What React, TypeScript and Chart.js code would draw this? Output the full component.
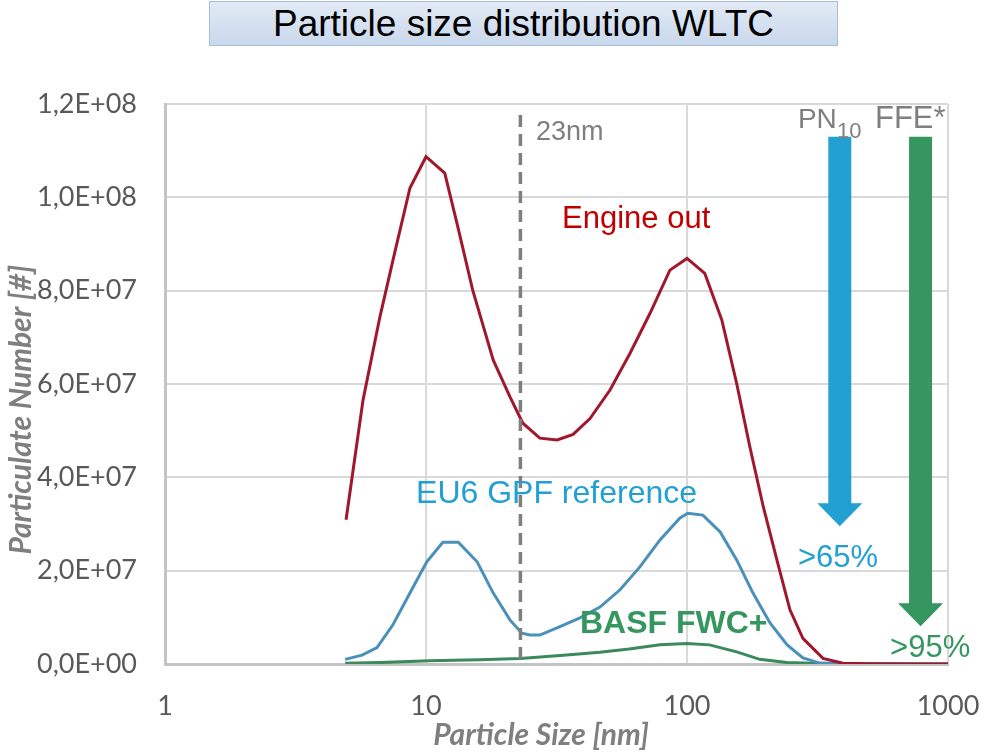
import { useEffect, useRef } from "react";
import { Chart, registerables } from "chart.js";

Chart.register(...registerables);

// Particle size bins [nm] and counts per curve
const engineSizes = [4.94, 5.74, 6.66, 7.6, 8.68, 10, 11.8, 13.2, 15.1, 18.1, 21, 23.5, 27.3, 31.8, 36.6, 42.5, 50.7, 60.5, 72.1, 86, 100, 117, 136, 155, 174, 196, 221, 248, 278, 332, 396, 500, 700, 1000];
const engineCounts = [3.09e7, 5.66e7, 7.44e7, 8.83e7, 1.02e8, 1.087e8, 1.052e8, 9.4e7, 8.01e7, 6.51e7, 5.72e7, 5.16e7, 4.84e7, 4.8e7, 4.92e7, 5.26e7, 5.87e7, 6.66e7, 7.51e7, 8.44e7, 8.69e7, 8.37e7, 7.37e7, 6.01e7, 4.66e7, 3.37e7, 2.23e7, 1.16e7, 5.5e6, 1.2e6, 1.5e5, 5e4, 2e4, 1e4];

const gpfSizes = [4.9, 5.69, 6.49, 7.47, 8.68, 10.07, 11.6, 13.3, 15.7, 18.1, 21, 23.3, 25, 27.3, 32.6, 38.9, 46.4, 55.4, 66, 78.8, 94, 100.7, 115, 134, 155, 179, 208, 242, 278, 323, 400, 1000];
const gpfCounts = [1.0e6, 1.9e6, 3.5e6, 8.4e6, 1.52e7, 2.19e7, 2.61e7, 2.61e7, 2.19e7, 1.52e7, 9.4e6, 6.6e6, 6.2e6, 6.2e6, 8.0e6, 9.9e6, 1.22e7, 1.59e7, 2.08e7, 2.66e7, 3.13e7, 3.23e7, 3.19e7, 2.83e7, 2.23e7, 1.52e7, 8.8e6, 4.1e6, 1.3e6, 2e5, 5e4, 0];

const fwcSizes = [4.9, 6.66, 10.3, 16, 23, 33.6, 46.4, 60, 78.8, 100, 122, 155, 190, 242, 323, 1000];
const fwcCounts = [1.5e5, 3e5, 7e5, 9e5, 1.2e6, 1.9e6, 2.5e6, 3.2e6, 4.1e6, 4.4e6, 4.1e6, 2.6e6, 1.0e6, 3e5, 1e5, 0];

const xTicks = [1, 10, 100, 1000];
const Y_MAX = 1.2e8;
const Y_STEP = 2e7;

const CUTOFF_NM = 23;

const X_TITLE = "Particle Size [nm]";
const Y_TITLE = "Particulate Number [#]";

const RED = "#a0182d";
const BLUE_LINE = "#4a90b9";
const GREEN_LINE = "#3a8a5c";
const BLUE_TXT = "#22a0d4";
const GREEN_TXT = "#35965f";
const GRAY_TXT = "#7f7f7f";

const toXY = (xs: number[], ys: number[]) => xs.map((x, i) => ({ x, y: ys[i] }));

const sci = (v: number) => {
  if (v === 0) return "0,0E+00";
  const e = Math.floor(Math.log10(v) + 1e-9);
  const m = v / Math.pow(10, e);
  return m.toFixed(1).replace(".", ",") + "E+" + String(e).padStart(2, "0");
};

type Label = { text: string; x: number; y: number; color: string; font: string };

const SANS = "'Liberation Sans', Arial, sans-serif";
const AXIS_FONT = "Lato, 'Open Sans', sans-serif";

// Text annotations placed in data space (left edge / baseline)
const labels: Label[] = [
  { text: "23nm", x: 26.4, y: 1.123e8, color: GRAY_TXT, font: `27px ${SANS}` },
  { text: "Engine out", x: 33.2, y: 9.34e7, color: "#c00000", font: `31px ${SANS}` },
  { text: "EU6 GPF reference", x: 9.16, y: 3.45e7, color: BLUE_TXT, font: `32px ${SANS}` },
  { text: "BASF FWC+", x: 38.9, y: 6.6e6, color: GREEN_TXT, font: `bold 32px ${SANS}` },
  { text: ">65%", x: 266, y: 2.08e7, color: BLUE_TXT, font: `31px ${SANS}` },
  { text: ">95%", x: 600, y: 1.5e6, color: GREEN_TXT, font: `31px ${SANS}` },
  { text: "PN", x: 266, y: 1.149e8, color: GRAY_TXT, font: `28px ${SANS}` },
  { text: "10", x: 376, y: 1.127e8, color: GRAY_TXT, font: `22px ${SANS}` },
  { text: "FFE*", x: 525, y: 1.149e8, color: GRAY_TXT, font: `31px ${SANS}` },
];

// Reduction arrows: x position [nm], top and tip in counts
const arrows = [
  { x: 385, top: 1.13e8, tip: 2.95e7, color: "#22a0d2" },
  { x: 785, top: 1.13e8, tip: 8.1e6, color: "#35965f" },
];

const annotate = {
  id: "annotate",
  afterDatasetsDraw(chart: any) {
    const { ctx, chartArea } = chart;
    const xs = chart.scales.x;
    const ys = chart.scales.y;
    ctx.save();

    // 23 nm counting cut-off
    const cx = xs.getPixelForValue(CUTOFF_NM);
    ctx.strokeStyle = "#7f7f7f";
    ctx.lineWidth = 3.5;
    ctx.setLineDash([12, 7]);
    ctx.beginPath();
    ctx.moveTo(cx, chartArea.top + 11);
    ctx.lineTo(cx, chartArea.bottom);
    ctx.stroke();
    ctx.setLineDash([]);

    // arrows
    for (const a of arrows) {
      const ax = xs.getPixelForValue(a.x);
      const top = ys.getPixelForValue(a.top);
      const tip = ys.getPixelForValue(a.tip);
      const shaft = 11.5;
      const head = 22.5;
      const headLen = 23;
      ctx.fillStyle = a.color;
      ctx.beginPath();
      ctx.moveTo(ax - shaft, top);
      ctx.lineTo(ax + shaft, top);
      ctx.lineTo(ax + shaft, tip - headLen);
      ctx.lineTo(ax + head, tip - headLen);
      ctx.lineTo(ax, tip);
      ctx.lineTo(ax - head, tip - headLen);
      ctx.lineTo(ax - shaft, tip - headLen);
      ctx.closePath();
      ctx.fill();
    }

    // text labels
    ctx.textAlign = "left";
    ctx.textBaseline = "alphabetic";
    for (const l of labels) {
      ctx.font = l.font;
      ctx.fillStyle = l.color;
      ctx.fillText(l.text, xs.getPixelForValue(l.x), ys.getPixelForValue(l.y));
    }

    // axis titles
    ctx.font = `italic bold 30px ${AXIS_FONT}`;
    ctx.fillStyle = GRAY_TXT;
    ctx.textAlign = "center";
    ctx.textBaseline = "middle";
    ctx.fillText(X_TITLE, xs.getPixelForValue(27.6), chart.height - 18);
    ctx.translate(21, ys.getPixelForValue(5.45e7));
    ctx.rotate(-Math.PI / 2);
    ctx.fillText(Y_TITLE, 0, 0);
    ctx.restore();
  },
};

export default function App() {
  const canvasRef = useRef<HTMLCanvasElement | null>(null);

  useEffect(() => {
    document.body.style.margin = "0";
    const canvas = canvasRef.current;
    if (!canvas) return;
    const tickFont = { family: AXIS_FONT, size: 27 };

    const chart = new Chart(canvas, {
      type: "line",
      data: {
        datasets: [
          {
            label: "Engine out",
            data: toXY(engineSizes, engineCounts),
            borderColor: RED,
            borderWidth: 3,
            pointRadius: 0,
            tension: 0,
          },
          {
            label: "EU6 GPF reference",
            data: toXY(gpfSizes, gpfCounts),
            borderColor: BLUE_LINE,
            borderWidth: 3,
            pointRadius: 0,
            tension: 0,
          },
          {
            label: "BASF FWC+",
            data: toXY(fwcSizes, fwcCounts),
            borderColor: GREEN_LINE,
            borderWidth: 3,
            pointRadius: 0,
            tension: 0,
          },
        ],
      },
      options: {
        animation: false,
        responsive: true,
        maintainAspectRatio: false,
        layout: { padding: { top: 104, left: 0, right: 36, bottom: 0 } },
        plugins: {
          legend: { display: false },
          tooltip: { enabled: false },
          title: { display: false },
        },
        scales: {
          x: {
            type: "logarithmic",
            min: 1,
            max: 1000,
            afterBuildTicks: (s: any) => {
              s.ticks = xTicks.map((v) => ({ value: v }));
            },
            afterFit: (s: any) => {
              s.height = 89;
              s.paddingLeft = 0;
              s.paddingRight = 0;
            },
            ticks: {
              color: "#595959",
              font: tickFont,
              padding: 26,
              maxRotation: 0,
              autoSkip: false,
              callback: (v: any) => String(v),
            },
            grid: { color: "#d9d9d9", lineWidth: 2, drawTicks: false },
            border: { color: "#c4c4c4", width: 3 },
          },
          y: {
            min: 0,
            max: Y_MAX,
            afterFit: (s: any) => {
              s.width = 165;
              s.paddingTop = 0;
              s.paddingBottom = 0;
            },
            ticks: {
              stepSize: Y_STEP,
              color: "#595959",
              font: tickFont,
              padding: 28,
              callback: (v: any) => sci(Number(v)),
            },
            grid: { color: "#d9d9d9", lineWidth: 2, drawTicks: false },
            border: { color: "#c4c4c4", width: 3 },
          },
        },
      },
      plugins: [annotate],
    });
    return () => chart.destroy();
  }, []);

  return (
    <div style={{ position: "fixed", left: 0, top: 0, width: 984, height: 753, background: "#ffffff" }}>
      <canvas ref={canvasRef} />
      <div
        style={{
          position: "absolute",
          left: 209,
          top: 1,
          width: 629,
          height: 45,
          boxSizing: "border-box",
          border: "1px solid #a7bfdc",
          background: "linear-gradient(#e2eaf5, #c9d8ec)",
          fontFamily: SANS,
          fontSize: 37,
          lineHeight: "43px",
          textAlign: "center",
          color: "#000",
        }}
      >
        Particle size distribution WLTC
      </div>
    </div>
  );
}
